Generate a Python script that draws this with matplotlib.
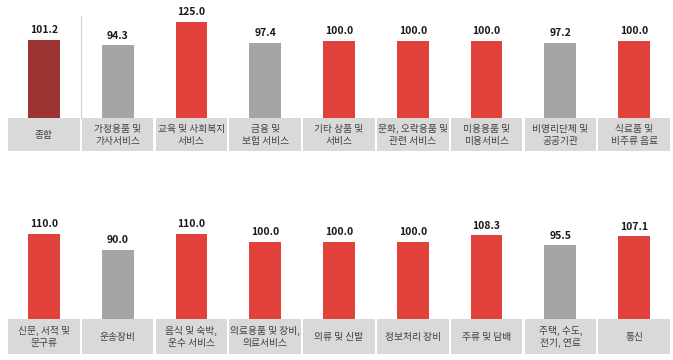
import matplotlib.pyplot as plt

plt.rcParams['font.family'] = ['Noto Sans CJK KR', 'DejaVu Sans']

# 데이터
top_labels = ['종합', '가정용품 및\n가사서비스', '교육 및 사회복지\n서비스', '금융 및\n보험 서비스',
              '기타 상품 및\n서비스', '문화, 오락용품 및\n관련 서비스', '미용용품 및\n미용서비스',
              '비영리단체 및\n공공기관', '식료품 및\n비주류 음료']
top_values = [101.2, 94.3, 125.0, 97.4, 100.0, 100.0, 100.0, 97.2, 100.0]

bot_labels = ['신문, 서적 및\n문구류', '운송장비', '음식 및 숙박,\n운수 서비스', '의료용품 및 장비,\n의료서비스',
              '의류 및 신발', '정보처리 장비', '주류 및 담배', '주택, 수도,\n전기, 연료', '통신']
bot_values = [110.0, 90.0, 110.0, 100.0, 100.0, 100.0, 108.3, 95.5, 107.1]

RED = '#e0413a'
GRAY = '#a5a5a5'
DARK = '#9c3434'
BOX = '#d9d9d9'

W, H = 673, 360
PX = 0.772  # pixels per unit


def color_of(v, first=False):
    if first:
        return DARK
    return RED if v >= 100 else GRAY


def draw_row(ax_rect, labels, values, base_px, top_px, bot_px, sep=False):
    # ax_rect: left,right px ; base/top/bot px from top of figure
    left, right = ax_rect
    ax = fig.add_axes([left / W, 1 - bot_px / H, (right - left) / W, (bot_px - top_px) / H])
    ax.set_xlim(-0.5, len(values) - 0.5)
    ax.set_ylim(-(bot_px - base_px) / PX, (base_px - top_px) / PX)
    ax.axis('off')
    x = range(len(values))
    cols = [color_of(v, first=(sep and i == 0)) for i, v in enumerate(values)]
    ax.bar(x, values, width=0.43, color=cols, zorder=2)
    box_h = (bot_px - base_px - 2) / PX
    ax.bar(x, -box_h, bottom=-0.5, width=0.97, color=BOX, zorder=1)
    for i, v in enumerate(values):
        ax.text(i, v + 6, f'{v:.1f}', ha='center', va='bottom', fontsize=7.5,
                fontweight='bold', color='#1a1a1a')
        ax.text(i, -0.5 - box_h / 2, labels[i], ha='center', va='center',
                fontsize=7, color='#404040', linespacing=1.25)
    if sep:
        ax.plot([0.5, 0.5], [0, (base_px - 16) / PX], color='#d0d0d0', lw=0.8, zorder=0)
    return ax


fig = plt.figure(figsize=(W / 100, H / 100), dpi=100)
draw_row((7, 671), top_labels, top_values, 118, 0, 153, sep=True)
draw_row((7, 671), bot_labels, bot_values, 319, 170, 356)

plt.savefig('out.png', dpi=100)
